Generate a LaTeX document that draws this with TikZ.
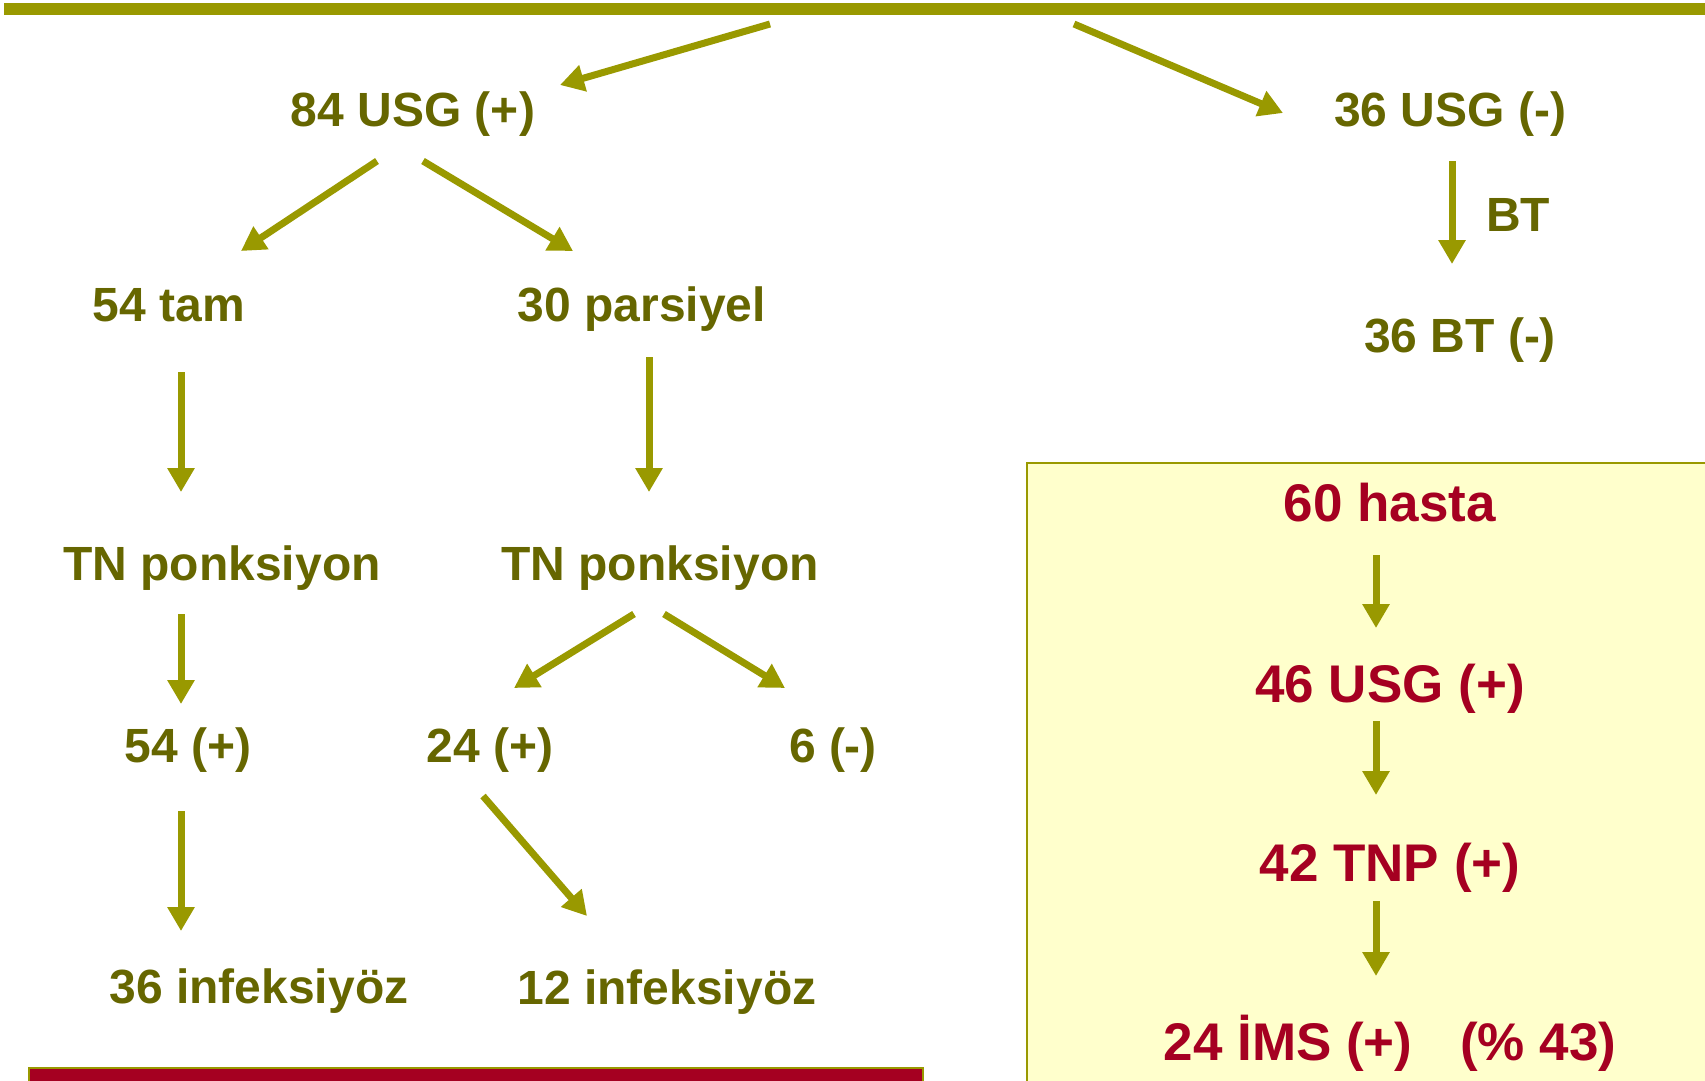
\documentclass[tikz,border=0pt]{standalone}
\usepackage{fontspec}
\setmainfont{Liberation Sans}
\usetikzlibrary{arrows.meta}
\definecolor{olivebar}{HTML}{999900}
\definecolor{olivetext}{HTML}{666600}
\definecolor{redtext}{HTML}{A50021}
\definecolor{boxfill}{HTML}{FFFFCC}
\tikzset{
  lbl/.style={anchor=base, inner sep=0pt, text=olivetext, font=\fontsize{48}{58}\selectfont\bfseries},
  rlbl/.style={anchor=base, inner sep=0pt, text=redtext, font=\fontsize{53}{64}\selectfont\bfseries},
  arr/.style={draw=olivebar, line width=7pt, -{Triangle[width=26pt,length=24pt]}}
}
\begin{document}
\begin{tikzpicture}[x=1pt,y=-1pt]
\useasboundingbox (0,0) rectangle (1705,1080);
% background shapes
\fill[olivebar] (4,3) rectangle (1712,15);
\path[draw=olivebar, fill=boxfill, line width=1.5pt] (1027,463) rectangle (1712,1090);
\path[draw=olivebar, fill=redtext, line width=2pt] (29,1068) rectangle (923,1090);

% nodes
\node[lbl] (usgp) at (413,126) {84 USG (+)};
\node[lbl] (usgn) at (1450,126) {36 USG (-)};
\node[lbl] (bt) at (1518,231) {BT};
\node[lbl] (btn) at (1460,352) {36 BT (-)};
\node[lbl] (tam) at (169,321) {54 tam};
\node[lbl] (pars) at (642,321) {30 parsiyel};
\node[lbl] (tnl) at (222,580) {TN ponksiyon};
\node[lbl] (tnr) at (660,580) {TN ponksiyon};
\node[lbl] (p54) at (188,762) {54 (+)};
\node[lbl] (p24) at (490,762) {24 (+)};
\node[lbl] (n6) at (833,762) {6 (-)};
\node[lbl] (inf36) at (259,1003) {36 infeksiyöz};
\node[lbl] (inf12) at (667,1004) {12 infeksiyöz};

\node[rlbl] (h60) at (1390,521) {60 hasta};
\node[rlbl] (u46) at (1390,702) {46 USG (+)};
\node[rlbl] (t42) at (1390,881) {42 TNP (+)};
\node[rlbl] (i24) at (1390,1060) {24 İMS (+)\hspace{0.9em}(\% 43)};

% connector end points
\coordinate (a1s) at (770,24);   \coordinate (a1e) at (560,85);
\coordinate (a2s) at (1074,24);  \coordinate (a2e) at (1283,113);
\coordinate (a3s) at (1452,161); \coordinate (a3e) at (1452,264);
\coordinate (a4s) at (377,161);  \coordinate (a4e) at (241,251);
\coordinate (a5s) at (423,161);  \coordinate (a5e) at (573,251);
\coordinate (a6s) at (181,372);  \coordinate (a6e) at (181,492);
\coordinate (a7s) at (649,357);  \coordinate (a7e) at (649,492);
\coordinate (a8s) at (181,614);  \coordinate (a8e) at (181,704);
\coordinate (a9s) at (634,614);  \coordinate (a9e) at (514,688);
\coordinate (a10s) at (664,614); \coordinate (a10e) at (785,688);
\coordinate (a11s) at (181,811); \coordinate (a11e) at (181,931);
\coordinate (a12s) at (483,796); \coordinate (a12e) at (587,916);
\coordinate (b1s) at (1376,555); \coordinate (b1e) at (1376,628);
\coordinate (b2s) at (1376,721); \coordinate (b2e) at (1376,795);
\coordinate (b3s) at (1376,901); \coordinate (b3e) at (1376,976);

\draw[arr] (a1s) -- (a1e);
\draw[arr] (a2s) -- (a2e);
\draw[arr] (a3s) -- (a3e);
\draw[arr] (a4s) -- (a4e);
\draw[arr] (a5s) -- (a5e);
\draw[arr] (a6s) -- (a6e);
\draw[arr] (a7s) -- (a7e);
\draw[arr] (a8s) -- (a8e);
\draw[arr] (a9s) -- (a9e);
\draw[arr] (a10s) -- (a10e);
\draw[arr] (a11s) -- (a11e);
\draw[arr] (a12s) -- (a12e);
\draw[arr] (b1s) -- (b1e);
\draw[arr] (b2s) -- (b2e);
\draw[arr] (b3s) -- (b3e);
\end{tikzpicture}
\end{document}
